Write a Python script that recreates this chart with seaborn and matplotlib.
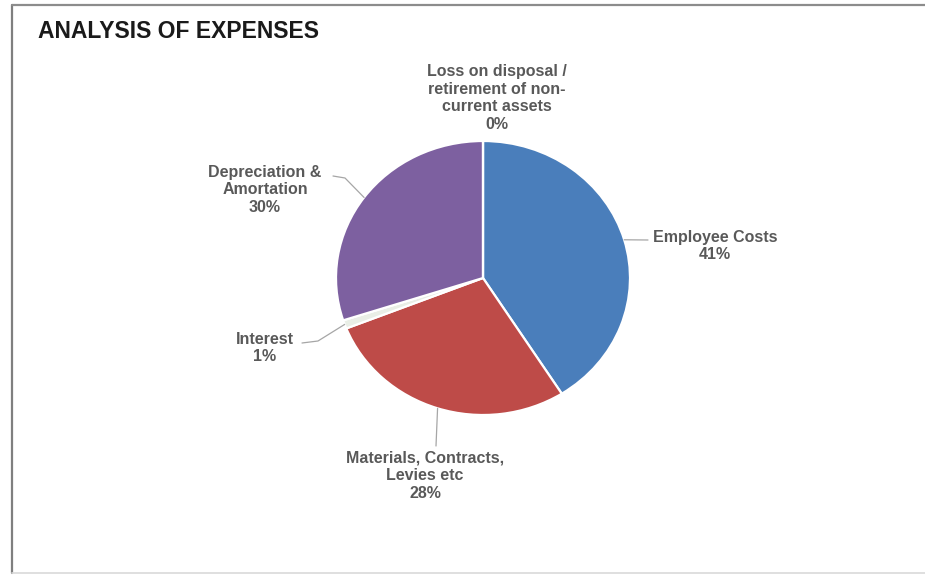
import matplotlib
matplotlib.use("Agg")
import matplotlib.pyplot as plt
from matplotlib.lines import Line2D
from matplotlib.transforms import IdentityTransform
import numpy as np
import seaborn as sns

# Expense categories and their shares (%)
categories = [
    "Employee Costs",
    "Materials, Contracts,\nLevies etc",
    "Interest",
    "Depreciation &\nAmortation",
    "Loss on disposal /\nretirement of non-\ncurrent assets",
]
shares = [41, 28, 1, 30, 0]
slice_colors = ["#4a7ebb", "#be4b48", "#e9eee6", "#7d60a0", "#9bbb59"]

sns.set_theme(style="white")
plt.rcParams["font.family"] = ["Liberation Sans", "DejaVu Sans"]

W, H = 925, 575
fig = plt.figure(figsize=(W / 100, H / 100), dpi=100)
fig.patch.set_facecolor("white")

# pie occupies an ellipse centred near (483, 278) px
cx, cy, rx, ry = 483, 278, 147, 137
ax = fig.add_axes([(cx - rx) / W, (H - cy - ry) / H, 2 * rx / W, 2 * ry / H])
wedges, _ = ax.pie(
    shares,
    colors=slice_colors,
    startangle=90,
    counterclock=False,
    radius=1.0,
    wedgeprops=dict(edgecolor="white", linewidth=1.6),
)
ax.set_aspect("auto")
ax.set_xlim(-1, 1)
ax.set_ylim(-1, 1)
ax.axis("off")

label_color = "#595959"
line_color = "#a6a6a6"

# label centres (px from top-left) and the elbow points of each leader line
label_pos = [(715, 246), (425, 476), (265, 348), (265, 190), (497, 98)]
leader_ends = [
    [(648, 240)],
    [(436, 446)],
    [(318, 341), (302, 343)],
    [(345, 178), (333, 176)],
    None,
]

for w, cat, val, pos, ends in zip(wedges, categories, shares, label_pos, leader_ends):
    fig.text(
        pos[0] / W, 1 - pos[1] / H, f"{cat}\n{val}%",
        ha="center", va="center", fontsize=11.5, fontweight="bold",
        color=label_color, linespacing=1.22,
    )
    if ends is None:
        continue
    mid = np.deg2rad((w.theta1 + w.theta2) / 2)
    px, py = ax.transData.transform((np.cos(mid), np.sin(mid)))
    xs = [px] + [e[0] for e in ends]
    ys = [py] + [H - e[1] for e in ends]
    fig.add_artist(Line2D(xs, ys, transform=IdentityTransform(),
                          color=line_color, lw=0.9))

fig.text(38 / W, 1 - 32 / H, "ANALYSIS OF EXPENSES", ha="left", va="center",
         fontsize=16.5, fontweight="bold", color="#1a1a1a")

# chart frame
fig.add_artist(Line2D([12, 12], [H - 5, H - 573], transform=IdentityTransform(),
                      color="#7f7f7f", lw=1.6))
fig.add_artist(Line2D([12, W], [H - 5, H - 5], transform=IdentityTransform(),
                      color="#8c8c8c", lw=1.6))
fig.add_artist(Line2D([12, W], [H - 573, H - 573], transform=IdentityTransform(),
                      color="#d9d9d9", lw=1.2))

fig.savefig("out.png", dpi=100, facecolor="white")
